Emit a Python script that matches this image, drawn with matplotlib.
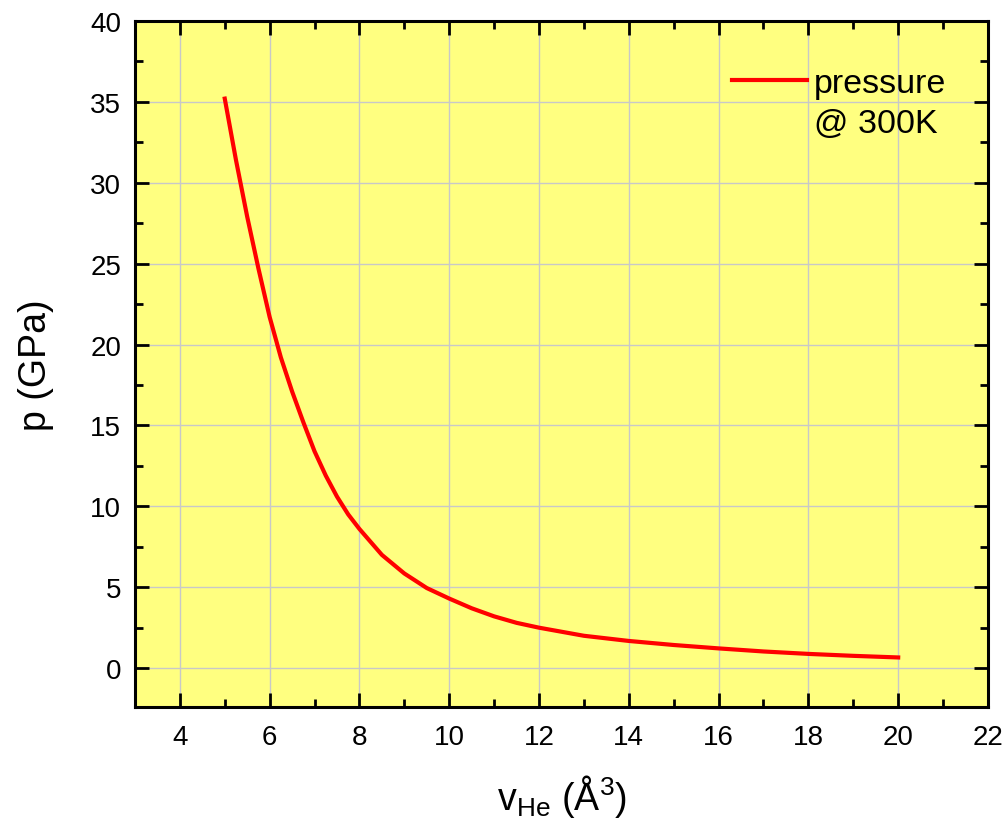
import matplotlib
matplotlib.use("Agg")
import matplotlib.pyplot as plt
from matplotlib.ticker import MultipleLocator
from matplotlib.lines import Line2D

plt.rcParams['font.family'] = ['Liberation Sans', 'DejaVu Sans']
plt.rcParams['mathtext.fontset'] = 'custom'
plt.rcParams['mathtext.rm'] = 'Liberation Sans'
plt.rcParams['mathtext.it'] = 'Liberation Sans'

volume = [5.0, 5.25, 5.5, 5.75, 6.0, 6.25, 6.5, 6.75, 7.0, 7.25, 7.5, 7.75, 8.0, 8.5, 9.0, 9.5,
          10.0, 10.5, 11.0, 11.5, 12.0, 13.0, 14.0, 15.0, 16.0, 17.0, 18.0, 19.0, 20.0]
pressure = [35.2, 31.4, 27.9, 24.7, 21.7, 19.2, 17.1, 15.2, 13.4, 11.9, 10.6, 9.5, 8.6, 7.0, 5.85, 4.95,
            4.3, 3.7, 3.2, 2.8, 2.5, 2.0, 1.68, 1.43, 1.22, 1.03, 0.88, 0.76, 0.66]
legend_lines = ['pressure', '@ 300K']

fig = plt.figure(figsize=(10.02, 8.29), dpi=100)
ax = fig.add_axes([0.1347, 0.146, 0.8513, 0.8275])
ax.set_facecolor('#ffff80')

line, = ax.plot(volume, pressure, color='#ff0000', lw=3, solid_joinstyle='round')

ax.set_xlim(3, 22)
ax.set_ylim(-2.4, 40)
ax.set_xticks([4, 6, 8, 10, 12, 14, 16, 18, 20, 22])
ax.set_yticks([0, 5, 10, 15, 20, 25, 30, 35, 40])
ax.xaxis.set_minor_locator(MultipleLocator(1))
ax.yaxis.set_minor_locator(MultipleLocator(2.5))

ax.grid(True, which='major', color='#c8c8c8', lw=1)
ax.set_axisbelow(True)

for s in ax.spines.values():
    s.set_linewidth(2.2)
ax.tick_params(which='both', direction='in', top=True, right=True, labelsize=20, width=2)
ax.tick_params(which='major', length=10, pad=10)
ax.tick_params(axis='x', which='major', pad=12)
ax.tick_params(which='minor', length=6)

ax.set_xlabel(r'v$_{\mathrm{He}}$ (Å$^{3}$)', fontsize=27, labelpad=16)
ax.set_ylabel('p (GPa)', fontsize=27, labelpad=26)

blank = Line2D([], [], color='none')
ax.legend([line, blank], legend_lines, loc='upper right', frameon=False, fontsize=24.5,
          handlelength=2.2, handletextpad=0.2, bbox_to_anchor=(0.987, 0.976),
          labelspacing=0.25)

fig.savefig('out.png', dpi=100)
